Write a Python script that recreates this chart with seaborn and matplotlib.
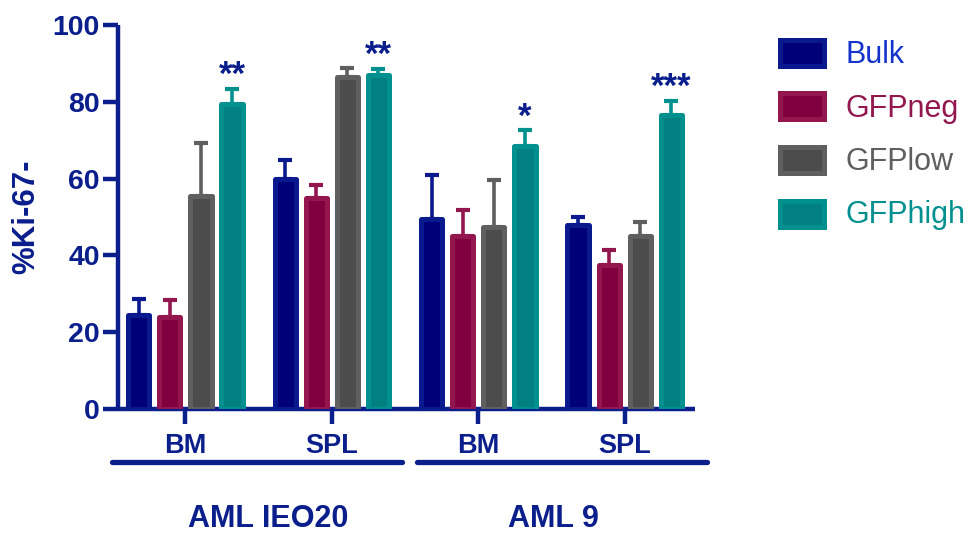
import matplotlib
matplotlib.use("Agg")
import matplotlib.pyplot as plt
from matplotlib.patches import Rectangle
import seaborn as sns
import pandas as pd
import numpy as np

# Ki-67 negative fraction per sorted population, tissue and patient sample
samples = ["AML IEO20", "AML IEO20", "AML 9", "AML 9"]
tissues = ["BM", "SPL", "BM", "SPL"]
populations = ["Bulk", "GFPneg", "GFPlow", "GFPhigh"]

bulk = [24.5, 60.0, 49.5, 48.0]
gfp_neg = [24.0, 55.0, 45.0, 37.5]
gfp_low = [55.5, 86.5, 47.5, 45.0]
gfp_high = [79.5, 87.0, 68.5, 76.5]

bulk_sem = [4.2, 4.8, 11.4, 1.9]
gfp_neg_sem = [4.5, 3.3, 6.8, 3.8]
gfp_low_sem = [13.7, 2.3, 12.1, 3.8]
gfp_high_sem = [3.9, 1.5, 4.1, 3.8]

significance = ["**", "**", "*", "***"]  # GFPhigh vs. other fractions

means = [bulk, gfp_neg, gfp_low, gfp_high]
sems = [bulk_sem, gfp_neg_sem, gfp_low_sem, gfp_high_sem]

groups = [f"{s} {t}" for s, t in zip(samples, tissues)]
rows = []
for pop, m, e in zip(populations, means, sems):
    for g, v, err in zip(groups, m, e):
        rows.append({"group": g, "population": pop, "value": v, "sem": err})
df = pd.DataFrame(rows)

fill_colors = ["#000078", "#80003F", "#4C4C4C", "#008080"]
edge_colors = ["#0A1A8E", "#93164F", "#5F5F5F", "#00918F"]
label_colors = ["#1432CC", "#93164F", "#5F5F5F", "#009090"]
navy = "#0A1E8C"

plt.rcParams["font.family"] = ["Liberation Sans", "DejaVu Sans"]

fig = plt.figure(figsize=(9.7, 5.34), dpi=100)
ax = fig.add_axes([118 / 970, 1 - 409 / 534, (695 - 118) / 970, 384 / 534])

sns.barplot(data=df, x="group", y="value", hue="population",
            hue_order=populations, order=groups, palette=fill_colors,
            saturation=1, width=0.85, gap=0.32, errorbar=None, legend=False,
            ax=ax, linewidth=3.6, zorder=3)

for container, pop, ec, err in zip(ax.containers, populations, edge_colors, sems):
    xs, tops = [], []
    for bar in container:
        bar.set_edgecolor(ec)
        bar.set_joinstyle("round")
        xs.append(bar.get_x() + bar.get_width() / 2)
        tops.append(bar.get_height())
    ax.errorbar(xs, tops, yerr=[np.zeros(len(err)), err], fmt="none",
                ecolor=ec, elinewidth=2.6, capsize=4.8, capthick=3.0,
                zorder=2)
    if pop == "GFPhigh":
        for x, t, e, s in zip(xs, tops, err, significance):
            ax.text(x, t + e + 1.0, s, ha="center", va="baseline",
                    fontsize=25, fontweight="bold", color=navy, zorder=4)

ax.set_ylim(0, 100)
ax.set_xlim(-0.46, 3.48)
ax.set_yticks(np.arange(0, 101, 20))
ax.set_xticks(range(len(groups)))
ax.set_xticklabels(tissues)
ax.set_xlabel("")
ax.set_ylabel("%Ki-67-", fontsize=22.5, fontweight="bold", color=navy, labelpad=8)

sns.despine(ax=ax)
for side in ["left", "bottom"]:
    ax.spines[side].set_color(navy)
    ax.spines[side].set_linewidth(3.2)
    ax.spines[side].set_capstyle("butt")
ax.tick_params(axis="both", colors=navy, width=3.2, length=11, direction="out")
ax.tick_params(axis="x", pad=6)
ax.tick_params(axis="y", pad=2)
for lab in ax.get_xticklabels():
    lab.set_fontsize(19.5)
    lab.set_fontweight("bold")
    lab.set_color(navy)
for lab in ax.get_yticklabels():
    lab.set_fontsize(20.5)
    lab.set_fontweight("bold")
    lab.set_color(navy)

# brackets spanning the tissues of each patient sample
trans = ax.get_xaxis_transform()
brackets = [(-0.50, 1.48, 0.566, "AML IEO20"), (1.58, 3.56, 2.51, "AML 9")]
label_y = (409 - 527) / 384
for x0, x1, xc, name in brackets:
    ax.plot([x0, x1], [-0.138, -0.138], transform=trans, color=navy,
            linewidth=3.8, solid_capstyle="round", clip_on=False)
    ax.text(xc, label_y, name, transform=trans, ha="center", va="baseline",
            fontsize=22, fontweight="bold", color=navy)

# legend: coloured swatches with matching label colours
for i, (pop, fc, ec, lc) in enumerate(zip(populations, fill_colors, edge_colors, label_colors)):
    yc = 53 + i * 53.5
    x0, w, h = 780, 44, 26
    rect = Rectangle((x0 / 970, 1 - (yc + h / 2) / 534), w / 970, h / 534,
                     transform=fig.transFigure, facecolor=fc, edgecolor=ec,
                     linewidth=3.6)
    fig.add_artist(rect)
    fig.text(846 / 970, 1 - (yc + 2) / 534, pop, ha="left", va="center",
             fontsize=22, color=lc)

fig.savefig("out.png", dpi=100)
